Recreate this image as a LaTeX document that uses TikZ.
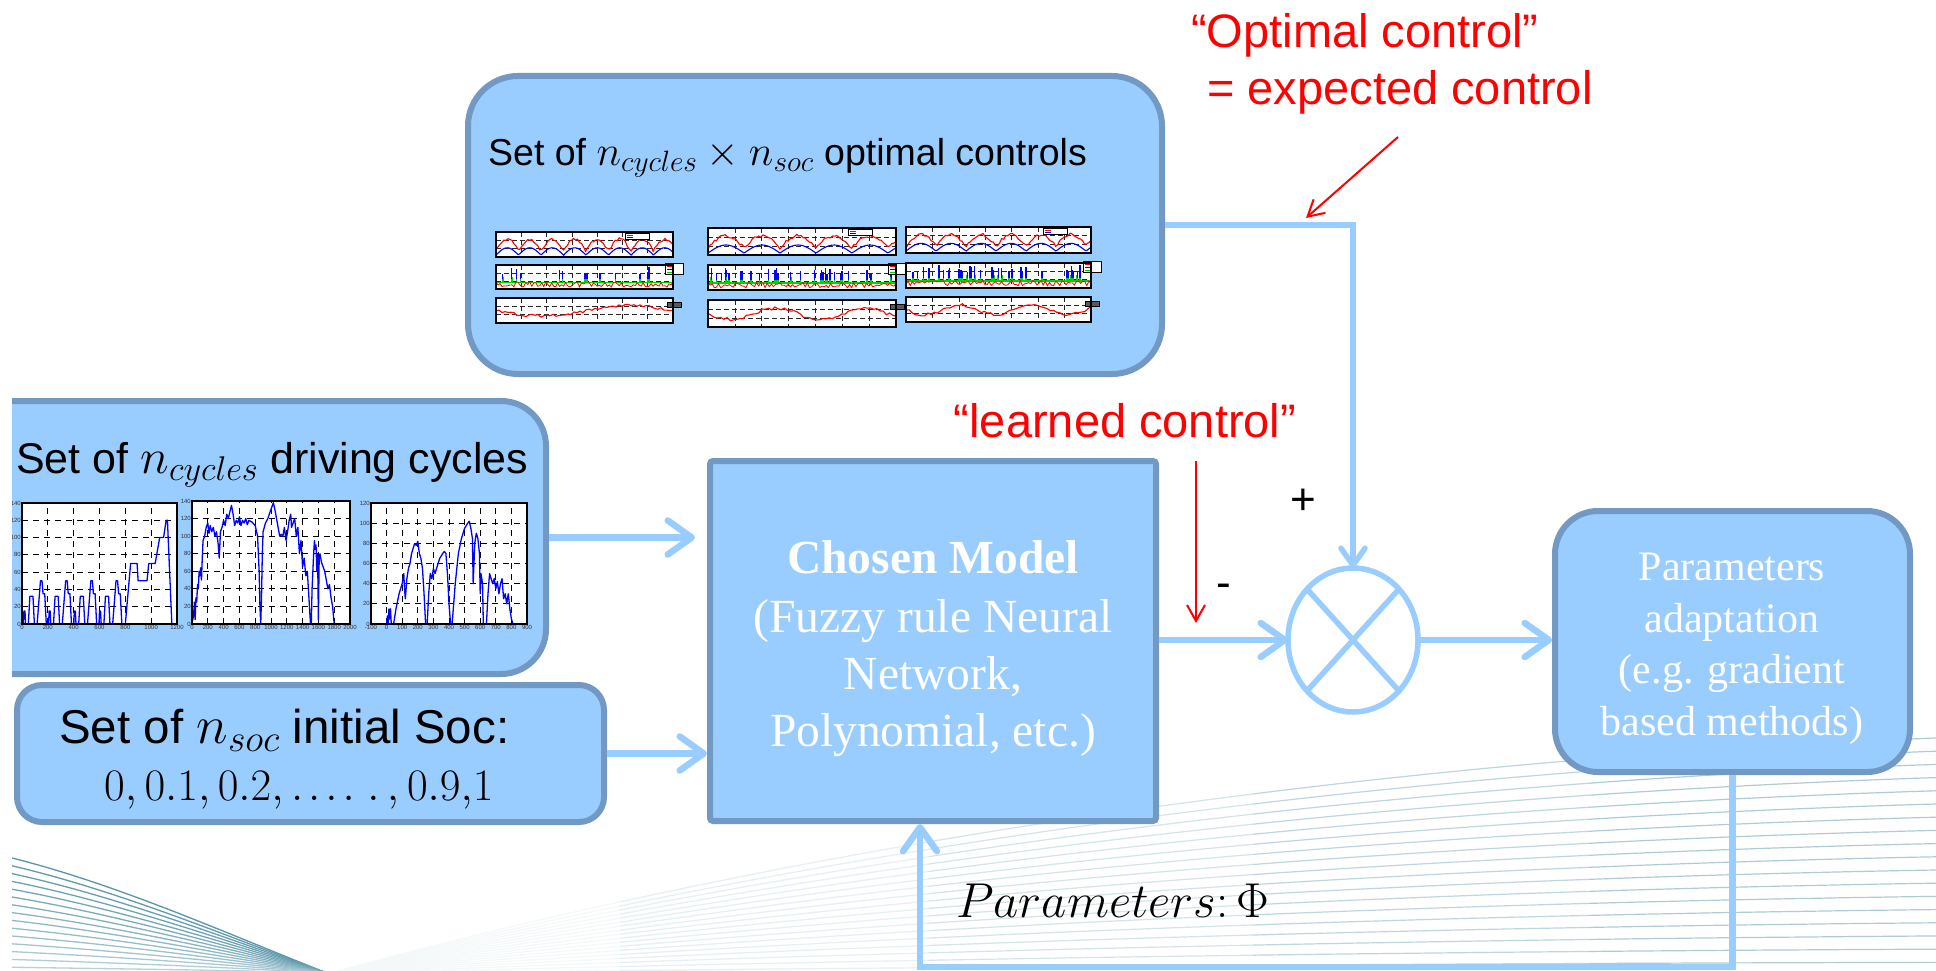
\RequirePackage{fix-cm}
\documentclass[tikz,border=0pt]{standalone}
\usepackage[no-math]{fontspec}
\newfontfamily\sansA{Liberation Sans}
\newfontfamily\serifT{Liberation Serif}
\usetikzlibrary{arrows.meta,shapes.geometric}

\definecolor{boxfill}{RGB}{153,204,255}
\definecolor{boxline}{RGB}{114,153,196}
\definecolor{flowblue}{RGB}{153,204,255}
\definecolor{swdark}{RGB}{88,150,170}
\definecolor{swlight}{RGB}{165,198,208}
\definecolor{grn}{RGB}{0,215,0}

\tikzset{
  ctrlbox/.style={draw=boxline, fill=boxfill, line width=6pt, inner sep=0pt, outer sep=3pt},
  flow/.style={draw=flowblue, line width=6.5pt, -{Straight Barb[length=24pt,width=34pt,round]}},
  flowthin/.style={draw=flowblue, line width=5.5pt, -{Straight Barb[length=17pt,width=24pt,round]}},
  redarrow/.style={draw=red, line width=2pt, -{Straight Barb[length=16pt,width=18pt]}},
  sumring/.style={ellipse, draw=flowblue, line width=5.5pt, inner sep=0pt, outer sep=0pt},
  crossline/.style={draw=flowblue, line width=5.5pt},
  redtxt/.style={text=red, font=\sansA\fontsize{47}{56}\selectfont, inner sep=0pt},
  modeltxt/.style={text=white, font=\serifT\fontsize{47.5}{57}\selectfont, inner sep=0pt, anchor=base},
  adapttxt/.style={text=white, font=\serifT\fontsize{42}{50}\selectfont, inner sep=0pt, anchor=base},
  signtxt/.style={font=\sansA\fontsize{44}{50}\selectfont, inner sep=0pt},
  tick/.style={font=\sansA\fontsize{6}{7}\selectfont, inner sep=1pt, text=black!80},
  gridd/.style={black, line width=0.9pt, dash pattern=on 6pt off 5pt},
  pgrid/.style={black!85, line width=0.7pt, dash pattern=on 5pt off 3pt},
  pframe/.style={black, line width=1.3pt},
  lgd/.style={draw=black, fill=white, line width=0.8pt},
  speed/.style={blue, line width=1.3pt, line join=round},
}

% one small result panel of the optimal-control grid
% #1,#2 top-left corner, #3 width, #4 height, #5 kind, #6 seed, #7 frequency or spike count
\newcommand\cpanel[7]{%
  \begin{scope}[shift={(#1,#2)}]
    \fill[white] (0,0) rectangle (#3,#4);
    \foreach \k in {1,...,6}
      \draw[pgrid] ({\k*#3/7},0) -- ({\k*#3/7},#4);
    \foreach \k in {1,2}
      \draw[pgrid] (0,{\k*#4/3}) -- (#3,{\k*#4/3});
    \pgfmathsetseed{#6}
    \ifcase#5\relax
    \or
      \draw[red, line width=1.1pt] plot[domain=0:#3, samples=90]
        (\x,{#4*(0.8-0.45*abs(sin(\x*#7))-0.12*rnd)});
      \draw[blue, line width=1.1pt] plot[domain=0:#3, samples=90]
        (\x,{#4*(0.93-0.3*abs(sin(\x*#7)))});
      \draw[lgd] ({#3-48},1) rectangle ({#3-24},7);
      \draw[red, line width=1pt] ({#3-46},3) -- ({#3-40},3);
      \draw[blue, line width=1pt] ({#3-46},5.5) -- ({#3-40},5.5);
    \or
      \draw[grn, line width=1.2pt] (0,{#4*0.72}) -- (#3,{#4*0.72});
      \foreach \k in {1,...,#7}{
        \pgfmathsetmacro\qx{3+rnd*(#3-6)}
        \pgfmathsetmacro\qh{0.08+0.3*rnd}
        \draw[grn, line width=1.6pt] (\qx,{#4*0.72}) -- (\qx,{#4*0.48});
        \draw[blue, line width=1.4pt] (\qx,{#4*0.6}) -- (\qx,{#4*\qh});
      }
      \draw[red, line width=0.8pt] plot[domain=0:#3, samples=90]
        (\x,{#4*(0.7+0.22*rnd)});
      \draw[lgd] ({#3-8},-2) rectangle ({#3+10},9);
      \draw[red, line width=0.8pt] ({#3-6},1) -- ({#3-1},1);
      \draw[blue, line width=0.8pt] ({#3-6},4) -- ({#3-1},4);
      \draw[grn, line width=0.8pt] ({#3-6},7) -- ({#3-1},7);
    \or
      \draw[red, line width=1.1pt] plot[domain=0:#3, samples=60]
        (\x,{#4*(0.45+0.2*sin(\x*#7)+0.12*rnd)});
      \draw[lgd, fill=black!65] ({#3-6},4) rectangle ({#3+8},9);
    \fi
    \draw[pframe] (0,0) rectangle (#3,#4);
  \end{scope}}

\begin{document}
\begin{tikzpicture}[x=1pt,y=-1pt]
\useasboundingbox[fill=white] (0,0) rectangle (1936,971);

\begin{scope}
\clip (12,0) rectangle (1936,971);

% background swoosh: fan of curves, fading out towards the left
\foreach \i in {0,...,17}{
  \pgfmathsetmacro\ye{738+13.2*\i}
  \pgfmathsetmacro\ca{975-0.55*(975-\ye)}
  \pgfmathsetmacro\cb{\ye+0.1*(975-\ye)}
  \foreach \ta/\tb/\pc in {0/0.2/12, 0.2/0.4/28, 0.4/0.6/48, 0.6/0.8/72, 0.8/1/90}{
    \draw[swlight!\pc!white, line width=1.2pt] plot[variable=\t, domain=\ta:\tb, samples=14]
      ({(1-\t)^3*327 + 3*(1-\t)^2*\t*800 + 3*(1-\t)*\t^2*1350 + \t^3*1936},
       {(1-\t)^3*974 + 3*(1-\t)^2*\t*\ca + 3*(1-\t)*\t^2*\cb + \t^3*\ye});
  }
}
% bundle at the bottom left, lighter towards the bottom
\foreach \i in {0,...,14}{
  \pgfmathsetmacro\pc{100-4*\i}
  \draw[swdark!\pc!white, line width=1.3pt] (12,{858+7.8*\i}) .. controls (120,{885+6*\i}) and (230,{935+2.5*\i}) .. (327,973);
}

% boxes
\node[ctrlbox, rounded corners=50pt, minimum width=694pt, minimum height=298pt] (opt) at (815,225) {};
\node[ctrlbox, rounded corners=45pt, minimum width=586pt, minimum height=273pt] (cyc) at (253,537.5) {};
\node[ctrlbox, rounded corners=25pt, minimum width=587pt, minimum height=137pt] (soc) at (310.5,753.5) {};
\node[ctrlbox, rounded corners=3pt, minimum width=446pt, minimum height=360pt] (model) at (933,641) {};
\node[ctrlbox, rounded corners=43pt, minimum width=355pt, minimum height=261pt] (adapt) at (1732.5,641.5) {};
\node[sumring, minimum width=130pt, minimum height=144pt] (sum) at (1353,640) {};
\draw[crossline] (sum.north west) -- (sum.south east);
\draw[crossline] (sum.north east) -- (sum.south west);

% grid of optimal-control results
\cpanel{496}{232}{177}{25}{1}{11}{8}
\cpanel{496}{265}{177}{24}{2}{12}{14}
\cpanel{496}{298}{177}{25}{3}{13}{2}
\cpanel{708}{228}{188}{27}{1}{21}{5}
\cpanel{708}{265}{188}{25}{2}{22}{32}
\cpanel{708}{300}{188}{27}{3}{23}{4}
\cpanel{906}{227}{185}{26}{1}{31}{6}
\cpanel{906}{263}{185}{25}{2}{32}{34}
\cpanel{906}{297}{185}{25}{3}{33}{5}

% driving cycle 1 (urban + extra-urban)
\begin{scope}[shift={(22,624)}, x=0.12917pt, y=0.8643pt]
  \fill[white] (0,0) rectangle (1200,140);
  \foreach \g in {200,400,...,1000} \draw[gridd] (\g,0) -- (\g,140);
  \foreach \g in {20,40,...,120} \draw[gridd] (0,\g) -- (1200,\g);
  \foreach \t in {0,195,390,585}
    \draw[speed] plot coordinates {(\t,0) ({\t+11},0) ({\t+15},15) ({\t+23},15) ({\t+28},0) ({\t+49},0) ({\t+61},32) ({\t+85},32) ({\t+96},0) ({\t+117},0) ({\t+143},50) ({\t+155},50) ({\t+163},35) ({\t+176},35) ({\t+188},0) ({\t+195},0)};
  \draw[speed] plot coordinates {(780,0) (800,0) (841,70) (891,70) (899,50) (968,50) (981,70) (1031,70) (1066,100) (1096,100) (1116,120) (1126,120) (1160,0) (1180,0)};
  \draw[pframe] (0,0) rectangle (1200,140);
  \foreach \v in {0,200,...,1200} \node[tick, anchor=north] (pa\v) at (\v,0) {\v};
  \foreach \v in {0,20,...,140} \node[tick, anchor=east] (pb\v) at (0,\v) {\v};
\end{scope}

% driving cycle 2 (motorway)
\begin{scope}[shift={(192,624)}, x=0.079pt, y=0.8786pt]
  \fill[white] (0,0) rectangle (2000,140);
  \foreach \g in {200,400,...,1800} \draw[gridd] (\g,0) -- (\g,140);
  \foreach \g in {20,40,...,120} \draw[gridd] (0,\g) -- (2000,\g);
  \draw[speed] plot coordinates {(0,0) (20,10) (30,25) (40,5) (50,30) (60,25) (70,45) (80,40) (90,60) (100,55) (110,64) (120,50) (130,75) (140,95) (160,100) (180,110) (200,115) (215,103) (230,112) (250,105) (270,110) (290,100) (310,105) (330,92) (345,75) (360,105) (380,110) (400,118) (420,112) (440,125) (460,120) (480,128) (500,135) (520,125) (540,112) (560,118) (580,115) (600,122) (620,112) (640,118) (660,115) (680,120) (700,113) (720,118) (760,116) (800,112) (830,100) (850,60) (860,20) (870,0) (880,30) (890,80) (900,105) (930,115) (960,120) (990,128) (1010,133) (1030,138) (1050,130) (1070,120) (1090,110) (1110,100) (1130,102) (1150,100) (1170,110) (1190,95) (1210,105) (1230,118) (1250,125) (1260,110) (1280,115) (1300,120) (1320,100) (1340,110) (1360,80) (1380,95) (1400,65) (1420,75) (1440,55) (1460,60) (1480,30) (1500,0) (1510,0) (1520,40) (1540,80) (1550,95) (1560,85) (1570,90) (1580,60) (1590,80) (1600,5) (1610,75) (1620,80) (1640,70) (1660,65) (1680,60) (1700,50) (1720,40) (1740,45) (1760,30) (1780,20) (1800,0)};
  \draw[pframe] (0,0) rectangle (2000,140);
  \foreach \v in {0,200,...,2000} \node[tick, anchor=north] (pc\v) at (\v,0) {\v};
  \foreach \v in {0,20,...,140} \node[tick, anchor=east] (pd\v) at (0,\v) {\v};
\end{scope}

% driving cycle 3 (urban)
\begin{scope}[shift={(386.6,624)}, x=0.156pt, y=1.008pt]
  \fill[white] (-100,0) rectangle (900,120);
  \foreach \g in {0,100,...,800} \draw[gridd] (\g,0) -- (\g,120);
  \foreach \g in {20,40,...,100} \draw[gridd] (-100,\g) -- (900,\g);
  \draw[speed] plot coordinates {(0,0) (5,8) (10,0) (15,15) (20,5) (25,15) (30,0) (45,0) (60,15) (80,30) (100,40) (110,50) (115,35) (120,25) (130,45) (140,55) (150,60) (160,70) (170,75) (180,80) (190,78) (200,82) (210,70) (220,65) (230,55) (240,30) (250,0) (260,0) (270,30) (280,50) (290,45) (300,55) (310,50) (320,55) (330,60) (340,65) (360,70) (370,72) (380,70) (390,50) (400,20) (410,0) (420,0) (440,40) (460,70) (480,85) (500,95) (520,100) (530,102) (540,95) (550,85) (555,40) (560,60) (565,80) (575,90) (585,85) (595,70) (600,30) (605,50) (615,40) (620,0) (640,0) (650,30) (660,50) (670,45) (680,40) (690,45) (700,35) (710,42) (720,30) (730,40) (740,45) (750,25) (760,30) (770,20) (780,30) (790,15) (800,5) (810,0) (830,0)};
  \draw[pframe] (-100,0) rectangle (900,120);
  \foreach \v in {-100,0,...,900} \node[tick, anchor=north] (pe\v) at (\v,0) {\v};
  \foreach \v in {0,20,...,120} \node[tick, anchor=east] (pf\v) at (-100,\v) {\v};
\end{scope}
\end{scope}

% box titles
\node[anchor=base west, inner sep=0pt, font=\sansA\fontsize{37.5}{45}\selectfont] (optT) at (488,165)
  {Set of {\fontsize{42}{48}\selectfont$n_{cycles}\times n_{soc}$} optimal controls};
\node[anchor=base west, inner sep=0pt, font=\sansA\fontsize{43}{52}\selectfont] (cycT) at (16,473)
  {Set of {\fontsize{49}{55}\selectfont$n_{cycles}$} driving cycles};
\node[anchor=base west, inner sep=0pt, font=\sansA\fontsize{47.5}{56}\selectfont] (socT) at (59,743)
  {Set of {\fontsize{54}{60}\selectfont$n_{soc}$} initial Soc:};
\node[anchor=base west, inner sep=0pt, font=\fontsize{45}{53}\selectfont] (socV) at (104,800)
  {$0, 0.1, 0.2, .\mkern2mu.\mkern2mu.\mkern2mu.\;.\,, 0.9{,}1$};

\node[modeltxt] (mA) at (933,573) {\bfseries Chosen Model};
\node[modeltxt] (mB) at (933,632) {(Fuzzy rule Neural};
\node[modeltxt] (mC) at (933,689) {Network,};
\node[modeltxt] (mD) at (933,746) {Polynomial, etc.)};

\node[adapttxt] (pA) at (1732,580) {Parameters};
\node[adapttxt] (pB) at (1732,632) {adaptation};
\node[adapttxt] (pC) at (1732,683) {(e.g. gradient};
\node[adapttxt] (pD) at (1732,735) {based methods)};

% annotations
\node[redtxt, anchor=base west] (optA) at (1191,48) {“Optimal control”};
\node[redtxt, anchor=base west] (optB) at (1207,105) {= expected control};
\node[redtxt, anchor=base] (learn) at (1125,437) {“learned control”};
\node[signtxt] (plus) at (1303,502) {+};
\node[signtxt] (minus) at (1224,591) {-};
\node[anchor=base west, inner sep=0pt, font=\fontsize{49}{56}\selectfont] (phi) at (956,917) {$Parameters{:}\,\Phi$};

% connectors
\draw[flow, shorten >=12pt] (cyc.east) -- (cyc.east -| model.west);
\draw[flow] (soc.east) -- (soc.east -| model.west);
\draw[flow] (model.east |- sum.west) -- (sum.west);
\draw[flow] (sum.east) -- (sum.east -| adapt.west);
\draw[flowthin] (opt.east) -| (sum.north);
\coordinate (fbturn) at (920,967);
\draw[flow] (adapt.south) |- (fbturn) -- (fbturn |- model.south);

\coordinate (lcA) at (1196,461);
\coordinate (lcB) at (1196,623);
\draw[redarrow] (lcA) -- (lcB);
\coordinate (ocA) at (1398,137);
\coordinate (ocB) at (1306,218);
\draw[redarrow] (ocA) -- (ocB);
\end{tikzpicture}
\end{document}
